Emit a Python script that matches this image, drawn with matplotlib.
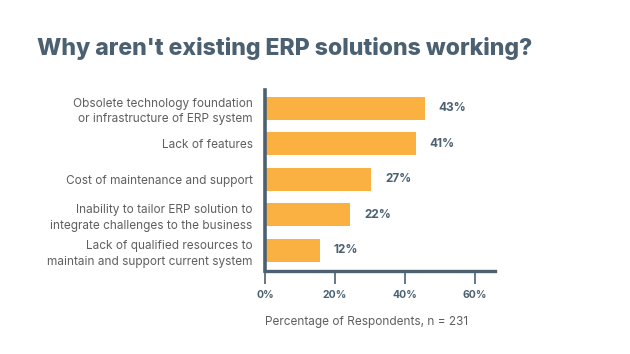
import matplotlib
matplotlib.use("Agg")
import matplotlib.pyplot as plt

categories = [
    "Obsolete technology foundation\nor infrastructure of ERP system",
    "Lack of features",
    "Cost of maintenance and support",
    "Inability to tailor ERP solution to\nintegrate challenges to the business",
    "Lack of qualified resources to\nmaintain and support current system",
]
bar_lengths = [45.2, 42.7, 30.0, 24.0, 15.2]
value_labels = ["43%", "41%", "27%", "22%", "12%"]
xticks = [0, 20, 40, 60]
xtick_labels = ["0%", "20%", "40%", "60%"]

SLATE = "#4b6172"
ORANGE = "#fbb042"
GRAY = "#5f5f5f"
FONT = "Inter"

fig = plt.figure(figsize=(6.3, 3.54), dpi=100)
ax = fig.add_axes([265/630, 1-271/354, (495-265)/630, (271-90)/354])

y = list(range(len(categories)))
ax.barh(y, bar_lengths, height=0.64, color=ORANGE, left=0.4)
for yi, L, lab in zip(y, bar_lengths, value_labels):
    ax.text(L + 4.3, yi, lab, va="center", ha="left", fontsize=8.5,
            fontweight="bold", color=SLATE, family=FONT)

ax.set_xlim(0, 65.7)
ax.set_ylim(4.58, -0.51)
ax.set_yticks(y)
ax.set_yticklabels(categories, fontsize=8.5, color=GRAY, family=FONT,
                   linespacing=1.42)
ax.tick_params(axis="y", length=0, pad=9)
ax.set_xticks(xticks)
ax.set_xticklabels(xtick_labels, fontsize=7.5, fontweight="bold", color=SLATE,
                   family=FONT)
ax.tick_params(axis="x", length=9, width=1.2, color=SLATE, pad=5)
for s in ["top", "right"]:
    ax.spines[s].set_visible(False)
ax.spines["left"].set_color(SLATE)
ax.spines["left"].set_linewidth(2.6)
ax.spines["bottom"].set_color(SLATE)
ax.spines["bottom"].set_linewidth(2.4)
ax.set_xlabel("Percentage of Respondents, n = 231", fontsize=8.5, color=GRAY,
              family=FONT)
ax.xaxis.set_label_coords(0.44, -0.25)

fig.text(37/630, 1-49/354, "Why aren't existing ERP solutions working?",
         fontsize=16.6, fontweight=800, color=SLATE, family=FONT,
         va="center", ha="left")

fig.savefig("out.png", dpi=100)
